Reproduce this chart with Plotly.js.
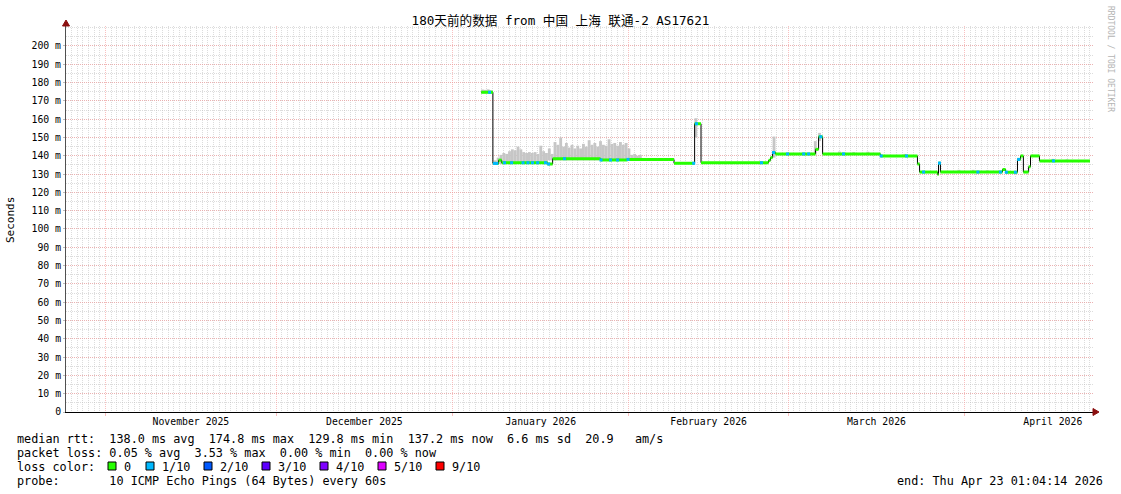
<!DOCTYPE html>
<html>
<head>
<meta charset="utf-8">
<script src="https://cdn.plot.ly/plotly-3.0.1.min.js"></script>
<style>
html,body{margin:0;padding:0;background:#fff;}
#chart{width:1121px;height:494px;}
</style>
</head>
<body>
<div id="chart"></div>
<script>
// ---------------- data ----------------
const chartTitle = '180天前的数据 from 中国 上海 联通-2 AS17621';
const yTitle = 'Seconds';

// median RTT (ms), step changes
const medianTimes = ['2026-01-06 01:00','2026-01-08 02:00','2026-01-09 02:00','2026-01-09 15:00','2026-01-17 17:00','2026-01-18 14:00','2026-01-27 00:00','2026-01-31 18:00','2026-02-08 22:00','2026-02-12 13:00','2026-02-13 16:00','2026-02-25 13:00','2026-02-25 21:00','2026-02-26 06:00','2026-02-26 18:00','2026-03-05 19:00','2026-03-06 08:00','2026-03-07 01:00','2026-03-17 05:00','2026-03-23 17:00','2026-03-24 02:00','2026-03-27 06:00','2026-03-27 10:00','2026-03-27 18:00','2026-04-07 16:00','2026-04-08 05:00','2026-04-10 07:00','2026-04-10 20:00','2026-04-11 08:00','2026-04-12 06:00','2026-04-12 14:00','2026-04-14 04:00'];
const medianValues = [174.7,135.8,137.6,136.2,135.5,138.4,137.7,138.0,135.9,157.5,136.2,137.5,139.0,141.8,141.0,143.5,150.4,141.0,139.9,135.5,131.1,129.8,136.0,131.1,132.5,131.0,138.0,139.9,131.1,134.0,139.9,137.2];
const medianEnd = '2026-04-23 01:00';

// samples with 1/10 packet loss
const loss1Times = ['2026-01-07 12:00','2026-01-08 09:00','2026-01-08 18:00','2026-01-10 03:00','2026-01-11 09:00','2026-01-13 09:00','2026-01-14 06:00','2026-01-15 01:00','2026-01-15 23:00','2026-01-17 08:00','2026-01-17 21:00','2026-01-20 16:00','2026-01-27 02:00','2026-01-28 18:00','2026-01-30 00:00','2026-01-31 20:00','2026-02-12 09:00','2026-02-12 21:00','2026-02-24 07:00','2026-02-26 10:00','2026-02-28 21:00','2026-03-03 17:00','2026-03-04 14:00','2026-03-06 17:00','2026-03-10 17:00','2026-03-17 08:00','2026-03-21 19:00','2026-03-24 19:00','2026-03-27 14:00','2026-04-03 08:00','2026-04-07 07:00','2026-04-08 08:00','2026-04-09 22:00','2026-04-10 12:00','2026-04-16 15:00'];

// smoke (ping spread), 12 h buckets
const smokeTimes = ['2026-01-06 06:00','2026-01-06 18:00','2026-01-07 06:00','2026-01-07 18:00',
'2026-01-08 12:00','2026-01-09 00:00','2026-01-09 12:00','2026-01-10 00:00','2026-01-10 12:00','2026-01-11 00:00','2026-01-11 12:00','2026-01-12 00:00','2026-01-12 12:00','2026-01-13 00:00','2026-01-13 12:00','2026-01-14 00:00','2026-01-14 12:00','2026-01-15 00:00','2026-01-15 12:00','2026-01-16 00:00','2026-01-16 12:00','2026-01-17 00:00','2026-01-17 12:00','2026-01-18 00:00','2026-01-18 12:00','2026-01-19 00:00','2026-01-19 12:00','2026-01-20 00:00','2026-01-20 12:00','2026-01-21 00:00','2026-01-21 12:00','2026-01-22 00:00','2026-01-22 12:00','2026-01-23 00:00','2026-01-23 12:00','2026-01-24 00:00','2026-01-24 12:00','2026-01-25 00:00','2026-01-25 12:00','2026-01-26 00:00','2026-01-26 12:00','2026-01-27 00:00','2026-01-27 12:00','2026-01-28 00:00','2026-01-28 12:00','2026-01-29 00:00','2026-01-29 12:00','2026-01-30 00:00','2026-01-30 12:00','2026-01-31 00:00','2026-01-31 12:00','2026-02-01 00:00','2026-02-01 12:00','2026-02-02 00:00','2026-02-02 12:00','2026-02-03 00:00',
'2026-02-12 18:00','2026-02-26 12:00','2026-03-05 18:00','2026-03-06 12:00','2026-03-10 00:00','2026-03-12 12:00','2026-03-15 00:00','2026-03-21 12:00','2026-03-31 00:00','2026-04-02 12:00','2026-04-05 00:00','2026-04-16 12:00','2026-04-19 00:00'];
const smokeLow = [174.0,174.0,174.0,174.0,
135.5,135.5,135.5,135.5,135.5,135.5,135.5,135.5,135.5,135.5,135.5,135.5,135.5,135.5,135.5,135.5,135.5,135.5,135.5,137.5,137.5,137.5,137.5,137.5,137.5,137.5,137.5,137.5,137.5,137.5,137.5,137.5,137.5,137.5,137.5,137.5,137.5,137.5,137.5,137.5,137.5,137.5,137.5,137.5,137.5,137.5,137.5,137.5,137.5,137.5,137.5,137.5,
150.0,139.0,141.0,148.0,140.5,140.5,140.5,139.5,130.5,130.5,130.5,136.8,136.8];
const smokeHigh = [176.2,176.0,176.3,175.8,
137.5,139.0,140.5,141.5,141.0,142.5,143.5,143.0,145.0,143.5,142.0,141.5,142.0,141.5,142.0,141.0,145.5,142.5,141.5,144.0,141.0,147.5,146.0,150.0,145.0,147.0,144.5,146.0,144.0,145.5,144.0,146.5,145.0,148.5,146.0,147.0,145.0,148.0,146.0,145.5,149.0,146.5,147.0,145.5,147.5,146.0,147.0,144.0,140.5,141.0,140.0,140.5,
160.5,150.5,148.0,152.5,142.3,142.0,142.2,141.0,132.3,132.3,132.0,138.3,138.0];

const yTickValues = [0,10,20,30,40,50,60,70,80,90,100,110,120,130,140,150,160,170,180,190,200];
const yTickLabels = ['0','10 m','20 m','30 m','40 m','50 m','60 m','70 m','80 m','90 m','100 m','110 m','120 m','130 m','140 m','150 m','160 m','170 m','180 m','190 m','200 m'];

const statsLines = [
  'median rtt:  138.0 ms avg  174.8 ms max  129.8 ms min  137.2 ms now  6.6 ms sd  20.9   am/s',
  'packet loss: 0.05 % avg  3.53 % max  0.00 % min  0.00 % now',
  'loss color:',
  'probe:       10 ICMP Echo Pings (64 Bytes) every 60s'
];
const lossLabels = ['0','1/10','2/10','3/10','4/10','5/10','9/10'];
const lossColors = ['#26ff00','#00b8ff','#0059ff','#5e00ff','#7e00ff','#dd00ff','#ff0000'];
const endText = 'end: Thu Apr 23 01:04:14 2026';
const watermark = 'RRDTOOL / TOBI OETIKER';

// ---------------- layout helpers ----------------
const W = 1121, H = 494, L = 66, R = 1093, T = 26, B = 412;
const px = x => (x - L) / (R - L);
const py = y => (B - y) / (B - T);
const mono = 'DejaVu Sans Mono, Noto Sans CJK SC, monospace';
const nb = s => s.replace(/ /g, '\u00A0');

const startMs = Date.UTC(2025, 9, 25, 1, 4, 14);
const msPerPx = 86400000 / 5.689;
const fmt = ms => new Date(ms).toISOString().replace('T', ' ').slice(0, 19);
const xRange = [fmt(startMs), fmt(startMs + (R - L) * msPerPx)];

// ---------------- traces ----------------
function medianAt(t) {
  let v = null;
  for (let i = 0; i < medianTimes.length; i++) if (medianTimes[i] <= t) v = medianValues[i];
  return v;
}
const smokeTrace = {
  type: 'bar', x: smokeTimes, base: smokeLow,
  y: smokeHigh.map((h, i) => h - smokeLow[i]),
  width: 43200000,
  marker: {color: '#c6c6c6', line: {width: 0}},
  hoverinfo: 'skip', showlegend: false
};
const blackLine = {
  type: 'scatter', mode: 'lines',
  x: medianTimes.concat([medianEnd]),
  y: medianValues.concat([medianValues[medianValues.length - 1]]),
  line: {color: '#000000', width: 1, shape: 'hv'},
  hoverinfo: 'skip', showlegend: false
};
const gx = [], gy = [];
medianTimes.forEach((t, i) => {
  const next = i + 1 < medianTimes.length ? medianTimes[i + 1] : medianEnd;
  gx.push(t, next, null); gy.push(medianValues[i], medianValues[i], null);
});
const greenLine = {
  type: 'scatter', mode: 'lines', x: gx, y: gy, connectgaps: false,
  line: {color: lossColors[0], width: 3},
  hoverinfo: 'skip', showlegend: false
};
const blueMarks = {
  type: 'scatter', mode: 'markers', x: loss1Times, y: loss1Times.map(medianAt),
  marker: {symbol: 'square', size: 3, color: lossColors[1], line: {width: 0}},
  hoverinfo: 'skip', showlegend: false
};

// ---------------- annotations & shapes ----------------
const annotations = [];
const shapes = [];
const rowY = [439, 453, 467, 481];
statsLines.forEach((s, i) => {
  annotations.push({xref: 'paper', yref: 'paper', x: px(15), y: py(rowY[i]), xanchor: 'left', yanchor: 'middle',
    text: nb(s), showarrow: false, font: {family: mono, size: 11.8, color: '#000'}});
});
const boxX = [108, 146, 204, 262, 320, 378, 436];
lossLabels.forEach((lab, i) => {
  shapes.push({type: 'rect', xref: 'paper', yref: 'paper', x0: px(boxX[i]), x1: px(boxX[i] + 8),
    y0: py(470), y1: py(462), fillcolor: lossColors[i], line: {color: '#000', width: 1}});
  annotations.push({xref: 'paper', yref: 'paper', x: px(boxX[i] + 14), y: py(467), xanchor: 'left', yanchor: 'middle',
    text: lab, showarrow: false, font: {family: mono, size: 11.8, color: '#000'}});
});
annotations.push({xref: 'paper', yref: 'paper', x: px(1105), y: py(481), xanchor: 'right', yanchor: 'middle',
  text: nb(endText), showarrow: false, font: {family: mono, size: 11.8, color: '#000'}});
annotations.push({xref: 'paper', yref: 'paper', x: px(10), y: py(220), xanchor: 'center', yanchor: 'middle',
  text: yTitle, textangle: -90, showarrow: false, font: {family: mono, size: 11, color: '#000'}});
annotations.push({xref: 'paper', yref: 'paper', x: px(1110), y: py(59), xanchor: 'center', yanchor: 'middle',
  text: nb(watermark), textangle: 90, showarrow: false, font: {family: mono, size: 8, color: '#b4b4b4'}});

// axis arrows
shapes.push({type: 'path', xref: 'paper', yref: 'paper', layer: 'above',
  path: `M ${px(62.5)} ${py(26)} L ${px(69.5)} ${py(26)} L ${px(66)} ${py(20)} Z`,
  fillcolor: '#8b1010', line: {color: '#8b1010', width: 1}});
shapes.push({type: 'path', xref: 'paper', yref: 'paper', layer: 'above',
  path: `M ${px(1093)} ${py(408.5)} L ${px(1093)} ${py(415.5)} L ${px(1099)} ${py(412)} Z`,
  fillcolor: '#8b1010', line: {color: '#8b1010', width: 1}});

const redGrid = 'rgba(245,150,150,0.6)';
const grayGrid = 'rgba(185,185,185,0.5)';

const layout = {
  width: W, height: H,
  margin: {l: L, r: W - R, t: T, b: H - B, pad: 0},
  paper_bgcolor: '#ffffff', plot_bgcolor: '#ffffff',
  showlegend: false, hovermode: false, barmode: 'overlay',
  title: {text: chartTitle, font: {family: mono, size: 12.6, color: '#000'},
    x: 0.5, xanchor: 'center', xref: 'container', y: 1 - 21 / H, yanchor: 'middle', yref: 'container'},
  xaxis: {
    type: 'date', range: xRange, fixedrange: true,
    tick0: '2025-11-01', dtick: 'M1', tickformat: '%B %Y', ticklabelmode: 'period',
    ticks: 'outside', ticklen: 3, tickcolor: redGrid, ticklabelstandoff: -3,
    tickfont: {family: mono, size: 9.8, color: '#000'},
    showgrid: true, gridcolor: redGrid, griddash: '1px,1px', gridwidth: 1,
    showline: true, linecolor: '#000', linewidth: 1, zeroline: false,
    minor: {dtick: 86400000, tick0: '2025-10-26', showgrid: true, gridcolor: grayGrid, griddash: '1px,1px', gridwidth: 1, ticks: ''}
  },
  yaxis: {
    range: [0, 210.9], fixedrange: true,
    tickmode: 'array', tickvals: yTickValues, ticktext: yTickLabels,
    ticks: 'outside', ticklen: 2, tickcolor: '#bbb',
    tickfont: {family: mono, size: 9.8, color: '#000'},
    showgrid: true, gridcolor: redGrid, griddash: '1px,1px', gridwidth: 1,
    showline: true, linecolor: '#505050', linewidth: 1, zeroline: false,
    minor: {tickmode: 'linear', tick0: 0, dtick: 5, showgrid: true, gridcolor: grayGrid, griddash: '1px,1px', gridwidth: 1, ticks: ''}
  },
  annotations: annotations,
  shapes: shapes
};

Plotly.newPlot('chart', [smokeTrace, blackLine, greenLine, blueMarks], layout, {staticPlot: true, displayModeBar: false});
</script>
</body>
</html>
